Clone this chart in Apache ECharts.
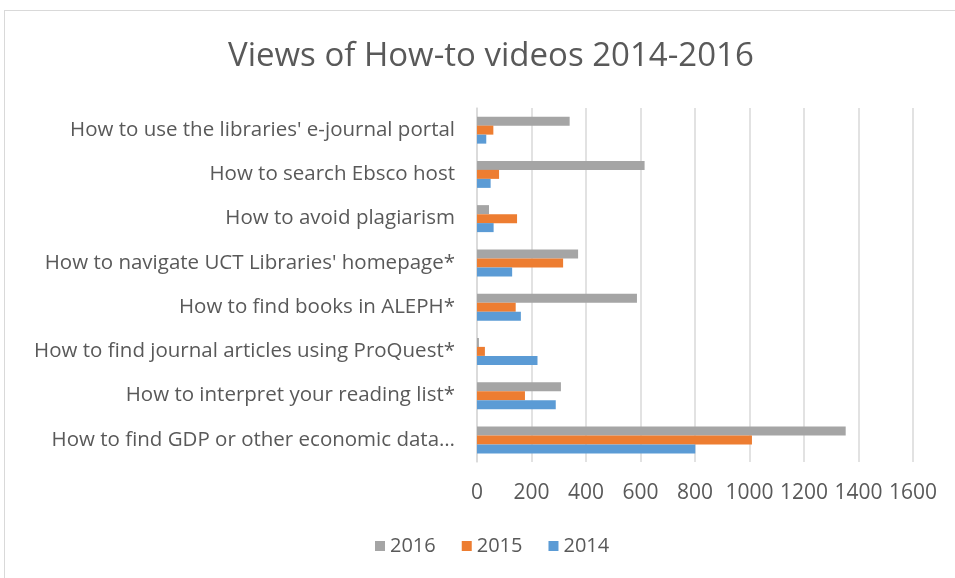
<!DOCTYPE html>
<html>
<head>
<meta charset="utf-8">
<script src="https://cdn.jsdelivr.net/npm/echarts@6/dist/echarts.min.js"></script>
<style>
  html, body { margin: 0; padding: 0; background: #fff; }
  #frame { position: absolute; left: 4px; top: 10px; width: 1000px; height: 600px; border: 1px solid #d9d9d9; box-sizing: border-box; }
  #chart { position: absolute; left: 0; top: 0; width: 955px; height: 578px; }
</style>
</head>
<body>
<div id="frame"></div>
<div id="chart"></div>
<script>
// categories, listed bottom to top as the axis draws them
var categories = [
    'How to find GDP or other economic data\u2026',
    'How to interpret your reading list*',
    'How to find journal articles using ProQuest*',
    'How to find books in ALEPH*',
    "How to navigate UCT Libraries' homepage*",
    'How to avoid plagiarism',
    'How to search Ebsco host',
    "How to use the libraries' e-journal portal"
];
var views2014 = [801, 289, 222, 161, 129, 61, 50, 34];
var views2015 = [1009, 176, 29, 142, 316, 147, 81, 60];
var views2016 = [1353, 308, 7, 587, 371, 44, 615, 340];
var xTicks = [0, 200, 400, 600, 800, 1000, 1200, 1400, 1600];

var chart = echarts.init(document.getElementById('chart'));
var font = '"Open Sans", Lato, sans-serif';

var option = {
    animation: false,
    title: {
        text: 'Views of How-to videos 2014-2016',
        left: 223,
        top: 35,
        textStyle: { color: '#595959', fontSize: 33, fontWeight: 'normal', fontFamily: font }
    },
    legend: {
        data: ['2016', '2015', '2014'],
        bottom: 17,
        left: 370,
        itemWidth: 10,
        itemHeight: 10,
        itemGap: 26,
        icon: 'rect',
        textStyle: { color: '#595959', fontSize: 20, fontFamily: font }
    },
    grid: { left: 477, right: 42, top: 108, bottom: 116, containLabel: false },
    xAxis: {
        type: 'value',
        min: xTicks[0],
        max: xTicks[xTicks.length - 1],
        interval: 200,
        axisLine: { show: false },
        axisTick: { show: false },
        splitLine: { lineStyle: { color: '#d9d9d9', width: 1.5 } },
        axisLabel: { color: '#595959', fontSize: 21, fontFamily: font, margin: 21, formatter: function(v) { return String(v); } }
    },
    yAxis: {
        type: 'category',
        data: categories,
        axisLine: { lineStyle: { color: '#d9d9d9', width: 1.5 } },
        axisTick: { show: false },
        axisLabel: { color: '#595959', fontSize: 20.5, fontFamily: font, margin: 22 }
    },
    // first series is drawn at the top of each group
    series: [
        { name: '2016', type: 'bar', data: views2016, barWidth: 9, barGap: '0%', itemStyle: { color: '#a5a5a5' } },
        { name: '2015', type: 'bar', data: views2015, barWidth: 9, barGap: '0%', itemStyle: { color: '#ed7d31' } },
        { name: '2014', type: 'bar', data: views2014, barWidth: 9, barGap: '0%', itemStyle: { color: '#5b9bd5' } }
    ]
};

chart.setOption(option);
</script>
</body>
</html>
